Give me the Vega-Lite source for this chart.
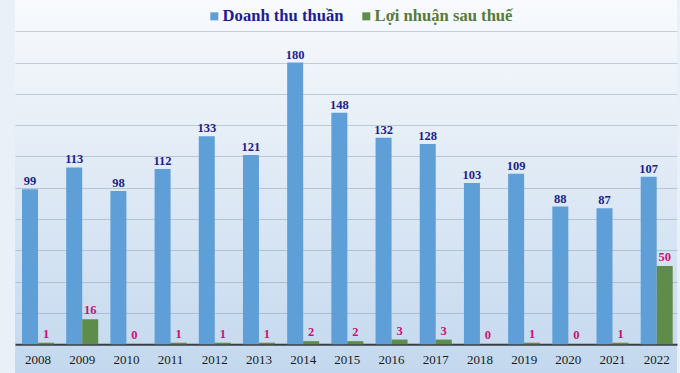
{
  "$schema": "https://vega.github.io/schema/vega-lite/v6.json",
  "width": 662,
  "height": 373,
  "autosize": {"type": "none"},
  "padding": {"left": 15, "right": 3, "top": 0, "bottom": 0},
  "background": "#e9f0f8",
  "config": {
    "font": "Liberation Serif",
    "view": {
      "stroke": null,
      "fill": {"gradient": "linear", "x1": 0, "y1": 0, "x2": 0, "y2": 1,
        "stops": [{"offset": 0, "color": "#f8fafd"}, {"offset": 0.3, "color": "#e9f0f8"}, {"offset": 1, "color": "#c3d8ee"}]}
    }
  },
  "data": {
    "values": [
      {"year": "2008", "series": "Doanh thu thuần", "value": 99},
      {"year": "2009", "series": "Doanh thu thuần", "value": 113},
      {"year": "2010", "series": "Doanh thu thuần", "value": 98},
      {"year": "2011", "series": "Doanh thu thuần", "value": 112},
      {"year": "2012", "series": "Doanh thu thuần", "value": 133},
      {"year": "2013", "series": "Doanh thu thuần", "value": 121},
      {"year": "2014", "series": "Doanh thu thuần", "value": 180},
      {"year": "2015", "series": "Doanh thu thuần", "value": 148},
      {"year": "2016", "series": "Doanh thu thuần", "value": 132},
      {"year": "2017", "series": "Doanh thu thuần", "value": 128},
      {"year": "2018", "series": "Doanh thu thuần", "value": 103},
      {"year": "2019", "series": "Doanh thu thuần", "value": 109},
      {"year": "2020", "series": "Doanh thu thuần", "value": 88},
      {"year": "2021", "series": "Doanh thu thuần", "value": 87},
      {"year": "2022", "series": "Doanh thu thuần", "value": 107},
      {"year": "2008", "series": "Lợi nhuận sau thuế", "value": 1},
      {"year": "2009", "series": "Lợi nhuận sau thuế", "value": 16},
      {"year": "2010", "series": "Lợi nhuận sau thuế", "value": 0},
      {"year": "2011", "series": "Lợi nhuận sau thuế", "value": 1},
      {"year": "2012", "series": "Lợi nhuận sau thuế", "value": 1},
      {"year": "2013", "series": "Lợi nhuận sau thuế", "value": 1},
      {"year": "2014", "series": "Lợi nhuận sau thuế", "value": 2},
      {"year": "2015", "series": "Lợi nhuận sau thuế", "value": 2},
      {"year": "2016", "series": "Lợi nhuận sau thuế", "value": 3},
      {"year": "2017", "series": "Lợi nhuận sau thuế", "value": 3},
      {"year": "2018", "series": "Lợi nhuận sau thuế", "value": 0},
      {"year": "2019", "series": "Lợi nhuận sau thuế", "value": 1},
      {"year": "2020", "series": "Lợi nhuận sau thuế", "value": 0},
      {"year": "2021", "series": "Lợi nhuận sau thuế", "value": 1},
      {"year": "2022", "series": "Lợi nhuận sau thuế", "value": 50}
    ]
  },
  "encoding": {
    "x": {
      "field": "year", "type": "nominal",
      "scale": {"paddingInner": 0.276, "paddingOuter": 0.128, "align": 0.62},
      "axis": {
        "title": null, "labelAngle": 0, "offset": -28.7, "ticks": false,
        "domainColor": "#3a3f45", "domainWidth": 2,
        "labelFont": "Liberation Serif", "labelFontSize": 13, "labelColor": "#1a1a1a",
        "labelPadding": 9
      }
    },
    "xOffset": {"field": "series", "type": "nominal",
      "scale": {"domain": ["Doanh thu thuần", "Lợi nhuận sau thuế"], "paddingInner": 0, "paddingOuter": 0}},
    "y": {
      "field": "value", "type": "quantitative",
      "scale": {"domain": [-18.34, 220], "nice": false, "zero": false},
      "axis": {
        "title": null, "labels": false, "ticks": false, "domain": false,
        "values": [20, 40, 60, 80, 100, 120, 140, 160, 180, 200],
        "gridColor": "#6f8294", "gridOpacity": 0.35, "gridWidth": 1
      }
    }
  },
  "layer": [
    {
      "mark": {"type": "bar"},
      "encoding": {
        "y2": {"datum": 0},
        "color": {
          "field": "series", "type": "nominal",
          "scale": {"domain": ["Doanh thu thuần", "Lợi nhuận sau thuế"], "range": ["#5f9fd8", "#5e8c4a"]},
          "legend": {
            "title": null, "orient": "none", "legendX": 191, "legendY": 8,
            "direction": "horizontal", "symbolType": "square", "symbolSize": 64,
            "symbolStrokeWidth": 0, "labelFont": "Liberation Serif", "labelFontSize": 16.6,
            "labelFontWeight": "bold", "labelOffset": 0, "columnPadding": 14, "padding": 0,
            "encode": {"labels": {"update": {"fill": {"signal": "datum.label == 'Doanh thu thuần' ? '#1c1f8c' : '#557a3a'"}}}}
          }
        }
      }
    },
    {
      "transform": [{"filter": "datum.series == 'Doanh thu thuần'"}],
      "mark": {"type": "text", "baseline": "alphabetic", "dy": -4, "font": "Liberation Serif", "fontSize": 12.5, "fontWeight": "bold", "color": "#1c1f8c"},
      "encoding": {"text": {"field": "value", "type": "quantitative"}}
    },
    {
      "transform": [{"filter": "datum.series == 'Lợi nhuận sau thuế'"}],
      "mark": {"type": "text", "baseline": "alphabetic", "dy": -5, "font": "Liberation Serif", "fontSize": 12.5, "fontWeight": "bold", "color": "#cc1177"},
      "encoding": {"text": {"field": "value", "type": "quantitative"}}
    }
  ]
}
